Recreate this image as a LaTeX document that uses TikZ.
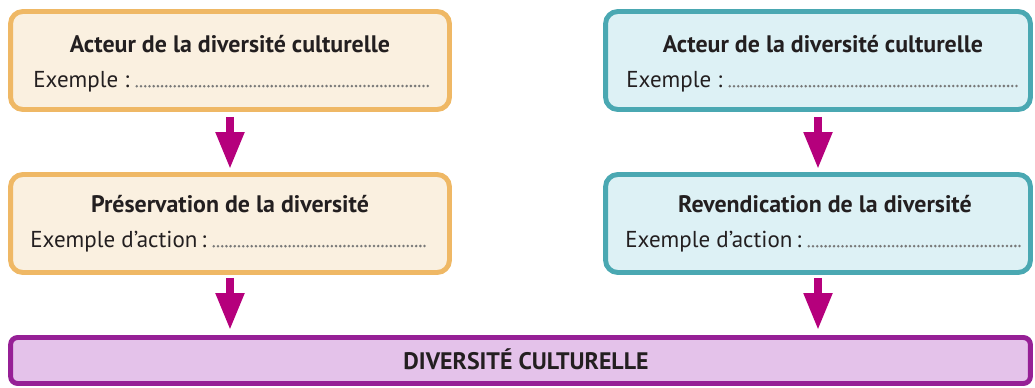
\documentclass[tikz,border=0pt]{standalone}
\usepackage{fontspec}
\setmainfont{PT Sans}
\definecolor{sandline}{RGB}{239,184,101}
\definecolor{sandbg}{RGB}{250,240,224}
\definecolor{tealline}{RGB}{74,168,178}
\definecolor{tealbg}{RGB}{221,241,245}
\definecolor{plumline}{RGB}{150,32,150}
\definecolor{plumbg}{RGB}{228,194,234}
\definecolor{arrowmag}{RGB}{181,0,124}
\definecolor{dotgray}{RGB}{120,120,120}
\definecolor{ink}{RGB}{35,31,32}
\usetikzlibrary{arrows.meta, positioning}
\tikzset{
  sandbox/.style={rectangle, rounded corners=7pt,
    draw=sandline, fill=sandbg, line width=2.8pt,
    minimum width=8.78cm, minimum height=1.96cm, inner sep=0pt},
  tealbox/.style={rectangle, rounded corners=7pt,
    draw=tealline, fill=tealbg, line width=2.8pt,
    minimum width=8.5cm, minimum height=1.96cm, inner sep=0pt},
  plumbox/.style={rectangle, rounded corners=4pt,
    draw=plumline, fill=plumbg, line width=2.8pt,
    minimum width=20.4cm, minimum height=0.92cm, inner sep=0pt},
  title/.style={anchor=base, inner sep=0pt, text=ink,
    font=\bfseries\fontsize{13.6}{16}\selectfont},
  entry/.style={anchor=base west, inner sep=0pt, text=ink,
    font=\fontsize{13.1}{16}\selectfont},
  dots/.style={draw=dotgray, line width=1.6pt,
    dash pattern=on 0pt off 2.4pt, line cap=round},
  arrow/.style={-{Triangle[length=0.74cm, width=0.54cm]},
    line width=0.16cm, color=arrowmag},
}

\begin{document}
\begin{tikzpicture}[x=0.02cm, y=-0.02cm]
\useasboundingbox (0,0) rectangle (1035,388);

% boxes
\node[sandbox] (actL) at (230,60.5) {};
\node[sandbox] (presL) at (230,223.5) {};
\node[tealbox] (actR) at (818,60.5) {};
\node[tealbox] (revR) at (818,223.5) {};
\node[plumbox] (div) at (520.5,360.5) {};

% left column
\node[title] (actLt) at (230,53) {Acteur de la diversité culturelle};
\node[entry] (actLe) at (33,88) {Exemple :};
\draw[dots] (actLe.base east) ++(4pt,1pt) -- (428,86);
\node[title] (presLt) at (230,213) {Préservation de la diversité};
\node[entry] (presLe) at (30,248) {Exemple d’action\,:};
\draw[dots] (presLe.base east) ++(4pt,1pt) -- (428,246);

% right column
\node[title] (actRt) at (823,53) {Acteur de la diversité culturelle};
\node[entry] (actRe) at (626,88) {Exemple :};
\draw[dots] (actRe.base east) ++(4pt,1pt) -- (1018,86);
\node[title] (revRt) at (825,213) {Revendication de la diversité};
\node[entry] (revRe) at (625,248) {Exemple d’action\,:};
\draw[dots] (revRe.base east) ++(4pt,1pt) -- (1022,246);

\node[title] (divt) at (526,370) {DIVERSITÉ CULTURELLE};

% arrows
\draw[arrow, shorten <=0.1cm, shorten >=0.06cm] (actL.south) -- (presL.north);
\draw[arrow, shorten <=0.1cm, shorten >=0.06cm] (actR.south) -- (revR.north);
\draw[arrow, shorten <=0.06cm, shorten >=0.1cm] (presL.south) -- (presL.south |- div.north);
\draw[arrow, shorten <=0.06cm, shorten >=0.1cm] (revR.south) -- (revR.south |- div.north);
\end{tikzpicture}
\end{document}
